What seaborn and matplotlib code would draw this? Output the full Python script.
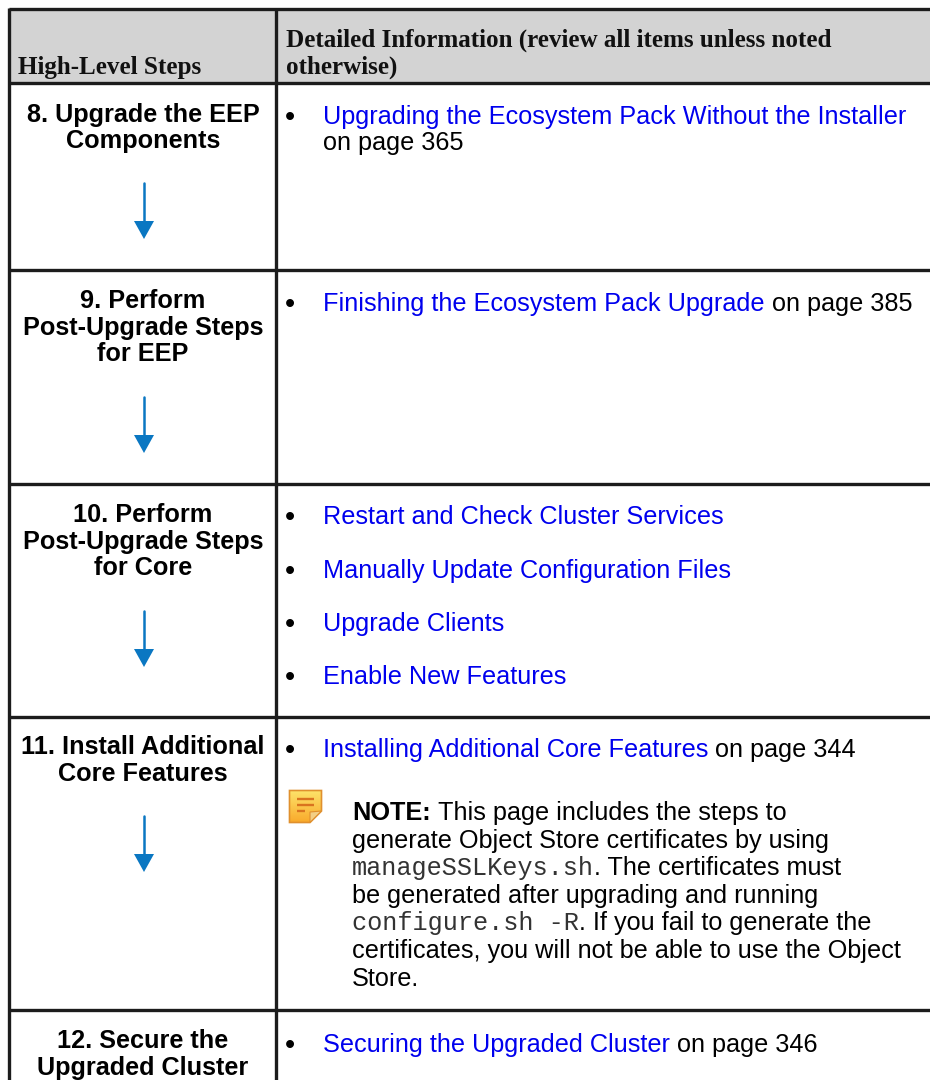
import matplotlib
matplotlib.use("Agg")
import matplotlib.pyplot as plt
from matplotlib.colors import LinearSegmentedColormap
from matplotlib.patches import Polygon, Rectangle
import numpy as np
import pandas as pd
import seaborn as sns

W, H = 930, 1080
BLUE = "#0000ee"
ARROW = "#0a77c2"
SANS = "Liberation Sans"
BODY = 18.2

headers_left = ["High-Level Steps"]
headers_right = ["Detailed Information (review all items unless noted", "otherwise)"]

steps = [
    ["8. Upgrade the EEP", "Components"],
    ["9. Perform", "Post-Upgrade Steps", "for EEP"],
    ["10. Perform", "Post-Upgrade Steps", "for Core"],
    ["11. Install Additional", "Core Features"],
    ["12. Secure the", "Upgraded Cluster"],
]
step_baselines = [[122, 148], [308, 335, 361], [522, 549, 575], [754, 781], [1048, 1075]]
arrow_tops = [183, 397, 611, 816]

# link text, text after it, continuation line
items = [
    ("Upgrading the Ecosystem Pack Without the Installer", "", "on page 365"),
    ("Finishing the Ecosystem Pack Upgrade", " on page 385", ""),
    ("Restart and Check Cluster Services", "", ""),
    ("Manually Update Configuration Files", "", ""),
    ("Upgrade Clients", "", ""),
    ("Enable New Features", "", ""),
    ("Installing Additional Core Features", " on page 344", ""),
    ("Securing the Upgraded Cluster", " on page 346", ""),
]
item_baselines = [124, 311, 524, 578, 631, 684, 757, 1052]

note_lines = [
    [("NOTE:", "bold"), (" This page includes the steps to", "sans")],
    [("generate Object Store certificates by using", "sans")],
    [("manageSSLKeys.sh", "mono"), (". The certificates must", "sans")],
    [("be generated after upgrading and running", "sans")],
    [("configure.sh -R", "mono"), (". If you fail to generate the", "sans")],
    [("certificates, you will not be able to use the Object", "sans")],
    [("Store.", "sans")],
]
note_baselines = [820, 848, 875, 903, 930, 958, 986]

h_rules = [9, 83, 270, 484, 717, 1010]
v_rules = [9, 276]

sns.set_theme(style="white")
plt.rcParams["font.family"] = [SANS, "DejaVu Sans"]

fig = plt.figure(figsize=(W / 100, H / 100), dpi=100, facecolor="white")
ax = fig.add_axes([0, 0, 1, 1])

# header band
ax.add_patch(Rectangle((9, 9), W - 9, 74, color="#d3d3d3", zorder=0))

# table rules
ax.hlines(h_rules, 9, W, color="#1c1c1c", lw=2.4, zorder=2)
ax.vlines(v_rules, 8, H, color="#1c1c1c", lw=2.4, zorder=2)

# arrows
for top in arrow_tops:
    stem = pd.DataFrame({"x": [144, 144], "y": [top, top + 40]})
    sns.lineplot(data=stem, x="x", y="y", color=ARROW, lw=1.8, ax=ax,
                 estimator=None, sort=False, legend=False)
    ax.add_patch(Polygon([(134, top + 38), (154, top + 38), (144, top + 56)],
                         color=ARROW, lw=0))

# note icon, yellow to orange from top to bottom
icon_cmap = LinearSegmentedColormap.from_list("icon", ["#fde36a", "#f9a92b"])
icon = ax.imshow(np.linspace(0, 1, 32).reshape(-1, 1), cmap=icon_cmap, aspect="auto",
                 extent=(289, 322, 823, 790), zorder=3)
outline = Polygon([(289.5, 790.5), (321.5, 790.5), (321.5, 811), (310, 822.5), (289.5, 822.5)],
                  facecolor="none", edgecolor="#e0902e", lw=1.2, zorder=4)
ax.add_patch(outline)
icon.set_clip_path(outline)
ax.add_patch(Polygon([(310, 822.5), (310, 812), (321.5, 811)],
                     facecolor="#f3cf86", edgecolor="#e0902e", lw=0.8, zorder=5))
ax.hlines([799, 805], 297, 314, color="#d9731f", lw=1.7, zorder=5)
ax.hlines([811], 297, 305, color="#d9731f", lw=1.7, zorder=5)

ax.set_xlim(0, W)
ax.set_ylim(H, 0)
ax.axis("off")

# header text
ax.text(18, 74, headers_left[0], family="Liberation Serif", weight="bold",
        fontsize=18.1, color="#111111", va="baseline")
for line, y in zip(headers_right, [47, 74]):
    ax.text(286, y, line, family="Liberation Serif", weight="bold",
            fontsize=18.1, color="#111111", va="baseline")

# left column
for lines, ys in zip(steps, step_baselines):
    for line, y in zip(lines, ys):
        ax.text(143, y, line, weight="bold", fontsize=BODY, color="black",
                ha="center", va="baseline")

renderer = fig.canvas.get_renderer()

# right column
for (link, tail, cont), y in zip(items, item_baselines):
    ax.text(290, y + 2, "\u2022", fontsize=21, color="black", ha="center", va="baseline")
    t = ax.text(323, y, link, fontsize=BODY, color=BLUE, va="baseline")
    if tail:
        x1 = t.get_window_extent(renderer).x1
        ax.text(x1 + 7, y, tail.strip(), fontsize=BODY, color="black", va="baseline")
    if cont:
        ax.text(323, y + 26, cont, fontsize=BODY, color="black", va="baseline")

# note block
STYLES = {
    "sans": dict(fontsize=BODY),
    "bold": dict(fontsize=BODY, weight="bold"),
    "mono": dict(fontsize=BODY, family="Liberation Mono"),
}
for runs, y in zip(note_lines, note_baselines):
    x = 352
    for s, kind in runs:
        lead = s.startswith(" ")
        t = ax.text(x + (7 if lead else 0), y, s.strip(), color="#333333" if kind == "mono" else "black",
                    va="baseline", **STYLES[kind])
        x = t.get_window_extent(renderer).x1

fig.savefig("out.png", dpi=100)
